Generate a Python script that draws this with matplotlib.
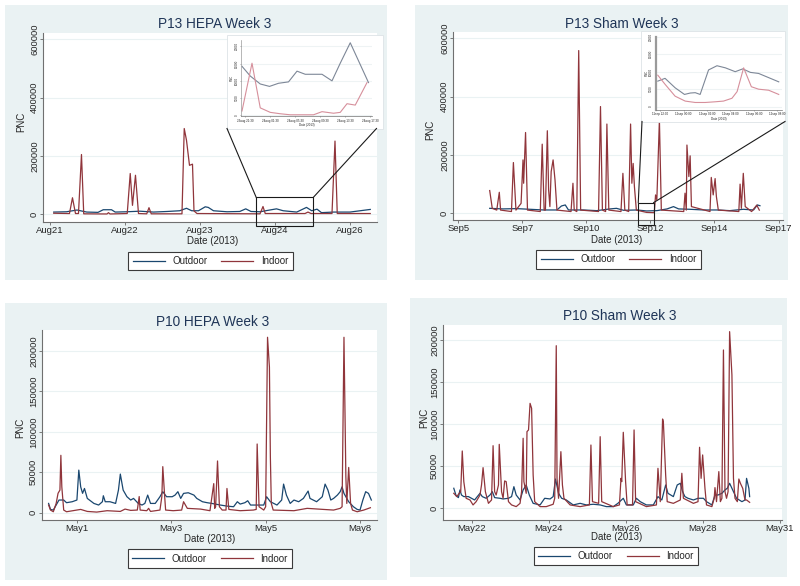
import matplotlib
matplotlib.use('Agg')
import matplotlib.pyplot as plt
from matplotlib.patches import Rectangle
from matplotlib.lines import Line2D

plt.rcParams['font.family'] = ['Liberation Sans', 'DejaVu Sans']

# ---------------- data ----------------
# P13 HEPA week 3 (x: days, tick index units)
p13h_xticklabels = ['Aug21', 'Aug22', 'Aug23', 'Aug24', 'Aug26']
p13h_out_t = [0.05, 0.22, 0.36, 0.49, 0.64, 0.71, 0.82, 0.87, 1.02, 1.20, 1.38, 1.56, 1.73, 1.82, 1.89,
              1.98, 2.07, 2.11, 2.18, 2.36, 2.53, 2.61, 2.68, 2.80, 2.93, 3.02, 3.11, 3.29, 3.42, 3.49,
              3.56, 3.62, 3.78, 4.00, 4.27]
p13h_out_v = [8000, 9000, 15000, 8000, 7000, 16000, 16000, 8000, 9000, 11000, 8000, 10000, 12500, 21000, 12500,
              12500, 26000, 24000, 12500, 9000, 10000, 19000, 10000, 9000, 15000, 19000, 12500, 8000, 24000, 12500,
              18000, 6000, 8000, 8000, 17000]
p13h_in_t = [0.05, 0.26, 0.30, 0.34, 0.38, 0.42, 0.45, 0.76, 0.78, 0.80, 1.03, 1.07, 1.10, 1.14, 1.18,
             1.29, 1.32, 1.35, 1.76, 1.79, 1.82, 1.86, 1.90, 1.92, 1.96, 2.80, 2.84, 2.87, 3.40, 3.44,
             3.48, 3.76, 3.80, 3.83, 4.27]
p13h_in_v = [4000, 3000, 57000, 3000, 3000, 205000, 2000, 1500, 6000, 1500, 3000, 140000, 31000, 134000, 3000,
             2000, 23000, 2000, 2000, 294000, 254000, 168000, 172000, 12000, 3000, 2000, 27000, 3000, 3000, 8000,
             3000, 3000, 251000, 3000, 3000]
# inset (zoomed window of P13 HEPA)
p13h_zoom_xticklabels = ['23aug 21:30', '24aug 01:30', '24aug 05:30', '24aug 09:30', '24aug 13:30', '24aug 17:30']
p13h_zoom_out_t = [-0.13, 0.20, 0.60, 0.97, 1.33, 1.73, 2.07, 2.40, 3.07, 3.47, 3.80, 4.20, 4.93]
p13h_zoom_out_v = [14200, 11400, 9100, 8400, 9300, 9700, 12800, 11900, 11900, 10000, 15100, 21000, 9500]
p13h_zoom_in_t = [-0.13, 0.27, 0.60, 1.00, 1.40, 1.80, 2.73, 3.07, 3.53, 3.80, 4.07, 4.40, 4.87]
p13h_zoom_in_v = [1300, 15100, 2200, 900, 500, 200, 200, 1100, 650, 900, 3400, 3000, 9500]

# P13 Sham week 3
p13s_xticklabels = ['Sep5', 'Sep7', 'Sep10', 'Sep12', 'Sep14', 'Sep17']
p13s_out_t = [0.49, 0.70, 0.91, 1.12, 1.33, 1.54, 1.61, 1.67, 1.72, 1.95, 2.16, 2.37, 2.47, 2.58, 2.79,
              2.94, 3.10, 3.26, 3.36, 3.44, 3.62, 3.83, 4.04, 4.24, 4.45, 4.61, 4.67, 4.71]
p13s_out_v = [17000, 15000, 16000, 13700, 11400, 11400, 25000, 28600, 11400, 11400, 9100, 15000, 17000, 10300, 11400,
              8000, 9100, 15000, 22900, 15000, 13700, 11400, 11400, 9100, 13700, 11400, 28600, 26000]
p13s_in_t = [0.49, 0.53, 0.60, 0.64, 0.66, 0.83, 0.86, 0.90, 0.98, 1.01, 1.02, 1.05, 1.08, 1.28, 1.31,
             1.34, 1.36, 1.39, 1.41, 1.43, 1.45, 1.48, 1.51, 1.54, 1.76, 1.79, 1.81, 1.85, 1.88, 1.91,
             2.19, 2.22, 2.25, 2.30, 2.32, 2.35, 2.54, 2.57, 2.60, 2.66, 2.69, 2.71, 2.73, 2.75, 2.78,
             2.94, 3.06, 3.08, 3.10, 3.14, 3.17, 3.52, 3.54, 3.56, 3.57, 3.60, 3.62, 3.64, 3.93, 3.95,
             3.98, 4.01, 4.03, 4.06, 4.38, 4.40, 4.42, 4.45, 4.48, 4.58, 4.66, 4.70]
p13s_in_v = [78000, 17000, 11000, 72000, 11000, 6000, 174000, 11000, 34000, 183000, 103000, 277000, 11000, 6000, 237000,
             11000, 11000, 283000, 80000, 23000, 143000, 183000, 114000, 11000, 6000, 103000, 11000, 6000, 558000, 11000,
             6000, 366000, 11000, 6000, 306000, 11000, 6000, 137000, 11000, 6000, 306000, 103000, 171000, 91000, 11000,
             3000, 2000, 63000, 46000, 320000, 11000, 6000, 69000, 11000, 234000, 126000, 197000, 23000, 6000, 123000,
             63000, 119000, 57000, 11000, 6000, 100000, 17000, 137000, 23000, 6000, 28000, 11000]
# inset (zoomed window of P13 Sham)
p13s_zoom_xticklabels = ['11sep 22:00', '12sep 00:00', '12sep 02:00', '12sep 04:00', '12sep 06:00', '12sep 08:00']
p13s_zoom_out_t = [-0.10, 0.21, 0.64, 1.04, 1.29, 1.50, 1.71, 2.07, 2.43, 2.79, 3.21, 3.53, 3.86, 4.21, 4.64, 5.07]
p13s_zoom_out_v = [7300, 8100, 5400, 3500, 3900, 4000, 3500, 10500, 11700, 11100, 10000, 10800, 9800, 9500, 8300, 7100]
p13s_zoom_in_t = [-0.10, 0.21, 0.64, 1.07, 1.50, 1.93, 2.36, 2.71, 3.07, 3.29, 3.57, 3.90, 4.21, 4.64, 5.07]
p13s_zoom_in_v = [9000, 6400, 3000, 1600, 1200, 1200, 1400, 1600, 2400, 4300, 11100, 5700, 5000, 4700, 3500]

# P10 HEPA week 3
p10h_xticklabels = ['May1', 'May3', 'May5', 'May8']
p10h_out_t = [-0.30, -0.28, -0.25, -0.22, -0.19, -0.14, -0.11, -0.05, 0.00, 0.02, 0.04, 0.06, 0.08, 0.11, 0.18,
              0.23, 0.27, 0.28, 0.30, 0.35, 0.41, 0.44, 0.46, 0.49, 0.53, 0.57, 0.60, 0.65, 0.69, 0.72,
              0.75, 0.78, 0.83, 0.88, 0.91, 0.95, 1.01, 1.04, 1.07, 1.10, 1.13, 1.18, 1.24, 1.27, 1.33,
              1.38, 1.43, 1.52, 1.59, 1.66, 1.70, 1.73, 1.78, 1.81, 1.84, 1.91, 1.98, 2.01, 2.05, 2.12,
              2.17, 2.19, 2.22, 2.26, 2.30, 2.35, 2.40, 2.45, 2.47, 2.54, 2.60, 2.63, 2.66, 2.69, 2.72,
              2.76, 2.79, 2.81, 2.83, 2.88, 2.93, 2.97, 3.00, 3.03, 3.06, 3.09, 3.12]
p10h_out_v = [11500, 4100, 3300, 9500, 15700, 15700, 12400, 13600, 15700, 52700, 32000, 24000, 30000, 17700, 11500,
              9500, 13600, 21000, 13600, 13600, 11500, 28000, 47800, 28000, 19800, 15700, 17700, 11500, 9500, 11500,
              21800, 11500, 11500, 19800, 26000, 19800, 19800, 21800, 26000, 17700, 23900, 24700, 21800, 17700, 13600,
              12400, 11500, 9500, 8200, 7400, 13600, 10700, 12400, 14800, 9500, 9500, 9500, 19800, 13600, 9500,
              15700, 35400, 21800, 11500, 15700, 13600, 17700, 26800, 17700, 13600, 19800, 35400, 28000, 15700, 17700,
              21800, 26000, 32000, 23900, 13600, 7400, 4100, 3300, 15700, 26000, 23900, 15700]
p10h_in_t = [-0.30, -0.28, -0.25, -0.22, -0.20, -0.18, -0.17, -0.16, -0.14, -0.11, 0.04, 0.11, 0.21, 0.32, 0.46,
             0.51, 0.57, 0.64, 0.66, 0.67, 0.74, 0.76, 0.78, 0.88, 0.90, 0.91, 0.93, 0.94, 1.02, 1.11,
             1.13, 1.17, 1.31, 1.41, 1.45, 1.46, 1.47, 1.49, 1.51, 1.54, 1.58, 1.59, 1.61, 1.73, 1.87,
             1.90, 1.91, 1.93, 1.98, 2.00, 2.02, 2.04, 2.05, 2.06, 2.08, 2.30, 2.44, 2.61, 2.72, 2.79,
             2.81, 2.83, 2.85, 2.86, 2.88, 2.90, 2.92, 2.97, 3.04, 3.11]
p10h_in_v = [9500, 3300, 1200, 11500, 24000, 28000, 71000, 32000, 3300, 1200, 4100, 1600, 800, 2500, 1600,
             4500, 2900, 3300, 20000, 3300, 2500, 5400, 1600, 3300, 20000, 57000, 20000, 3300, 2500, 3300,
             13600, 5400, 4500, 2500, 36000, 5400, 7400, 64000, 7400, 3300, 3300, 30000, 4100, 2500, 3300,
             4100, 85000, 7400, 3300, 7400, 217000, 180000, 69000, 11500, 3300, 2500, 5400, 4100, 3300, 5400,
             7400, 217000, 44500, 11500, 56000, 11500, 3300, 1200, 3300, 6200]

# P10 Sham week 3
p10s_xticklabels = ['May22', 'May24', 'May26', 'May28', 'May31']
p10s_out_t = [-0.23, -0.20, -0.17, -0.15, -0.13, -0.10, -0.04, 0.00, 0.04, 0.11, 0.14, 0.19, 0.24, 0.27, 0.30,
              0.37, 0.41, 0.48, 0.52, 0.55, 0.58, 0.63, 0.67, 0.71, 0.75, 0.80, 0.89, 0.95, 1.02, 1.06,
              1.09, 1.13, 1.17, 1.23, 1.32, 1.41, 1.49, 1.58, 1.67, 1.75, 1.84, 1.90, 1.97, 2.01, 2.10,
              2.14, 2.19, 2.27, 2.36, 2.42, 2.47, 2.52, 2.55, 2.62, 2.67, 2.71, 2.74, 2.77, 2.81, 2.88,
              2.94, 3.01, 3.05, 3.12, 3.16, 3.20, 3.25, 3.29, 3.32, 3.35, 3.39, 3.44, 3.51, 3.55, 3.57,
              3.60, 3.61]
p10s_out_v = [23800, 15000, 12700, 21800, 15800, 13900, 13900, 11900, 9900, 17800, 13900, 11900, 15800, 19800, 12700,
              11900, 11100, 11900, 13900, 25700, 15800, 9900, 21800, 27700, 15800, 5900, 4000, 11900, 11100, 13900,
              34800, 17800, 11900, 9900, 4000, 5900, 4000, 4800, 4000, 2000, 2000, 5900, 11900, 4000, 4000,
              11900, 7900, 4000, 4000, 13900, 9900, 27700, 17800, 13900, 27700, 29700, 19800, 13900, 11900, 9900,
              11900, 11900, 7900, 4000, 15800, 15800, 17800, 21800, 23800, 29700, 21800, 11900, 7900, 9900, 35600,
              23800, 13900]
p10s_in_t = [-0.23, -0.19, -0.16, -0.14, -0.12, -0.10, -0.07, -0.02, 0.02, 0.06, 0.11, 0.13, 0.15, 0.18, 0.22,
             0.26, 0.28, 0.30, 0.32, 0.35, 0.36, 0.39, 0.41, 0.43, 0.45, 0.48, 0.52, 0.58, 0.63, 0.65,
             0.67, 0.68, 0.71, 0.72, 0.74, 0.76, 0.78, 0.80, 0.82, 0.89, 0.97, 1.06, 1.08, 1.10, 1.11,
             1.13, 1.16, 1.18, 1.20, 1.28, 1.41, 1.53, 1.55, 1.57, 1.65, 1.67, 1.69, 1.84, 1.92, 1.94,
             1.95, 1.97, 2.00, 2.02, 2.09, 2.11, 2.13, 2.27, 2.40, 2.42, 2.45, 2.48, 2.49, 2.52, 2.54,
             2.62, 2.71, 2.73, 2.75, 2.88, 2.94, 2.96, 2.98, 3.00, 3.03, 3.05, 3.12, 3.15, 3.16, 3.18,
             3.21, 3.23, 3.25, 3.27, 3.29, 3.31, 3.33, 3.35, 3.38, 3.40, 3.42, 3.45, 3.47, 3.49, 3.52,
             3.55, 3.57, 3.61]
p10s_in_v = [17800, 13900, 17800, 19800, 68100, 31700, 11900, 9900, 4000, 7900, 15800, 27700, 48300, 19800, 5900,
             9900, 74400, 19800, 15800, 27700, 76000, 19800, 11900, 32500, 31700, 7900, 4000, 2000, 5900, 19800,
             83200, 31700, 17800, 91100, 93100, 124700, 118800, 39600, 7900, 2000, 2000, 4800, 11900, 193200, 35600,
             11900, 67300, 27700, 11900, 4000, 2000, 4000, 75200, 7900, 5900, 85100, 7900, 2000, 4000, 35600,
             31700, 90300, 31700, 4000, 4000, 93100, 7900, 2000, 4000, 47500, 7900, 106100, 103000, 39600, 7900,
             5900, 9900, 41600, 11900, 5900, 7900, 72500, 35600, 63400, 23800, 4000, 2000, 11900, 24600, 7900,
             43600, 7900, 11900, 188100, 19800, 11900, 19800, 209900, 158400, 35600, 11900, 7900, 34800, 29700, 23800,
             9900, 9900, 7100]

big_yticks = [0, 200000, 400000, 600000]
small_yticks = [0, 50000, 100000, 150000, 200000]
zoom_yticks = [0, 5000, 10000, 15000, 20000]

# ---------------- styling ----------------
W, H = 800, 586
fig = plt.figure(figsize=(8, 5.86), dpi=100)
BG = '#eaf2f3'
NAVY = '#1a476f'
MAROON = '#90353b'
TITLE_C = '#1f3557'
AXIS_C = '#707070'
TXT_C = '#262626'


def frect(x0, y0, x1, y1):
    return [x0 / W, 1 - y1 / H, (x1 - x0) / W, (y1 - y0) / H]


def fx(x):
    return x / W


def fy(y):
    return 1 - y / H


def style_axes(ax, fs, tick_len, xpad, ypad, grid_c=BG, lw=0.8):
    for s in ['top', 'right']:
        ax.spines[s].set_visible(False)
    for s in ['left', 'bottom']:
        ax.spines[s].set_color(AXIS_C)
        ax.spines[s].set_linewidth(lw)
    ax.tick_params(axis='both', length=tick_len, width=lw * 0.8, color=AXIS_C,
                   labelsize=fs, labelcolor=TXT_C)
    ax.tick_params(axis='x', pad=xpad)
    ax.tick_params(axis='y', pad=ypad)
    ax.grid(axis='y', color=grid_c, lw=0.8)
    ax.set_axisbelow(True)
    for lbl in ax.get_yticklabels():
        lbl.set_rotation(90)
        lbl.set_va('center')


def panel(bg, axr, title, title_xy, xlab_xy, ylab_xy, leg_xy, xt_labels, yticks, xlim, ylim,
          out_t, out_v, in_t, in_v):
    fig.patches.append(Rectangle((fx(bg[0]), fy(bg[3])), (bg[2] - bg[0]) / W, (bg[3] - bg[1]) / H,
                                 transform=fig.transFigure, facecolor=BG, edgecolor='none', zorder=0))
    ax = fig.add_axes(frect(*axr), zorder=1)
    ax.set_facecolor('white')
    l1, = ax.plot(out_t, out_v, color=NAVY, lw=0.9, label='Outdoor')
    l2, = ax.plot(in_t, in_v, color=MAROON, lw=0.9, label='Indoor')
    ax.set_xlim(*xlim)
    ax.set_ylim(*ylim)
    ax.set_xticks(range(len(xt_labels)))
    ax.set_xticklabels(xt_labels)
    ax.set_yticks(yticks)
    ax.set_yticklabels([str(v) for v in yticks])
    style_axes(ax, 6.8, 2, 1.0, 0.8)
    fig.text(fx(title_xy[0]), fy(title_xy[1]), title, ha='center', va='center', fontsize=9.8, color=TITLE_C)
    fig.text(fx(xlab_xy[0]), fy(xlab_xy[1]), 'Date (2013)', ha='center', va='center', fontsize=7, color=TXT_C)
    fig.text(fx(ylab_xy[0]), fy(ylab_xy[1]), 'PNC', ha='center', va='center', rotation=90, fontsize=7,
             color=TXT_C)
    leg = ax.legend(handles=[l1, l2], loc='center', bbox_to_anchor=(fx(leg_xy[0]), fy(leg_xy[1])),
                    bbox_transform=fig.transFigure, ncol=2, fontsize=7, frameon=True, fancybox=False,
                    edgecolor='#3a3a3a', framealpha=1, handlelength=3.3, handletextpad=0.8,
                    columnspacing=1.4, borderpad=0.45, borderaxespad=0)
    leg.get_frame().set_linewidth(0.8)
    for t in leg.get_texts():
        t.set_color(TXT_C)
    return ax


def inset(box, axr, xt_labels, xlim, ylim, out_t, out_v, in_t, in_v, left_lw):
    fig.patches.append(Rectangle((fx(box[0]), fy(box[3])), (box[2] - box[0]) / W, (box[3] - box[1]) / H,
                                 transform=fig.transFigure, facecolor='white', edgecolor='#dde3e6',
                                 lw=0.6, zorder=2))
    ax = fig.add_axes(frect(*axr), zorder=3)
    ax.set_facecolor('white')
    ax.plot(out_t, out_v, color='#7d8797', lw=0.8)
    ax.plot(in_t, in_v, color='#d68f9b', lw=0.8)
    ax.set_xlim(*xlim)
    ax.set_ylim(*ylim)
    ax.set_xticks(range(len(xt_labels)))
    ax.set_xticklabels(xt_labels)
    ax.set_yticks(zoom_yticks)
    ax.set_yticklabels([str(v) for v in zoom_yticks])
    style_axes(ax, 2.2, 1, 0.8, 0.8, grid_c='#eef3f4', lw=0.5)
    ax.spines['left'].set_linewidth(left_lw)
    ax.spines['left'].set_color('#9a9a9a')
    ax.set_xlabel('Date (2013)', fontsize=2.2, labelpad=0.3, color=TXT_C)
    ax.set_ylabel('PNC', fontsize=2.2, labelpad=0.5, color=TXT_C)
    return ax


def zoom_marks(ax, t0, t1, v0, v1, left_end, right_end):
    tr = ax.transData
    ax.add_patch(Rectangle((t0, v0), t1 - t0, v1 - v0, facecolor='none', edgecolor='#1a1a1a',
                           lw=0.8, clip_on=False, zorder=5))
    for (t, v), (ex, ey) in [((t0, v1), left_end), ((t1, v1), right_end)]:
        px, py = fig.transFigure.inverted().transform(tr.transform((t, v)))
        fig.lines.append(Line2D([px, fx(ex)], [py, fy(ey)], transform=fig.transFigure,
                                color='#1a1a1a', lw=0.8, zorder=2.5))


# ---------------- panels ----------------
ax1 = panel((5, 5, 387, 280), (43, 33, 377, 222), 'P13 HEPA Week 3', (215, 24), (213, 241), (21, 122),
            (210.5, 261), p13h_xticklabels, big_yticks, (-0.093, 4.36), (-26000, 621000),
            p13h_out_t, p13h_out_v, p13h_in_t, p13h_in_v)
zoom_marks(ax1, 2.75, 3.51, -41000, 58000, (227, 128.5), (376.5, 128.5))
inset((227, 35, 383, 128.5), (241, 40, 372, 116), p13h_zoom_xticklabels, (-0.17, 5.07), (-150, 21800),
      p13h_zoom_out_t, p13h_zoom_out_v, p13h_zoom_in_t, p13h_zoom_in_v, 0.5)

ax2 = panel((415, 5, 788, 280), (453, 32, 783, 220), 'P13 Sham Week 3', (622, 24), (617, 240), (430, 130),
            (618.5, 259.5), p13s_xticklabels, big_yticks, (-0.083, 5.07), (-23000, 621600),
            p13s_out_t, p13s_out_v, p13s_in_t, p13s_in_v)
zoom_marks(ax2, 2.81, 3.05, -40000, 36600, (642, 121.5), (785, 121.5))
inset((641, 31, 785, 121.5), (655.7, 36.7, 782, 110), p13s_zoom_xticklabels, (-0.19, 5.21), (-950, 20000),
      p13s_zoom_out_t, p13s_zoom_out_v, p13s_zoom_in_t, p13s_zoom_in_v, 1.6)

ax3 = panel((5, 303, 387, 580), (42, 330, 377, 520), 'P10 HEPA Week 3', (213, 322), (210, 539), (20, 428),
            (210, 558.5), p10h_xticklabels, small_yticks, (-0.37, 3.18), (-9000, 226000),
            p10h_out_t, p10h_out_v, p10h_in_t, p10h_in_v)

ax4 = panel((410, 298, 787, 577), (443, 325, 782, 520), 'P10 Sham Week 3', (620, 316), (617, 537), (424, 418),
            (616, 556), p10s_xticklabels, small_yticks, (-0.37, 4.03), (-13900, 217800),
            p10s_out_t, p10s_out_v, p10s_in_t, p10s_in_v)

fig.savefig('out.png', dpi=100, facecolor='white')
